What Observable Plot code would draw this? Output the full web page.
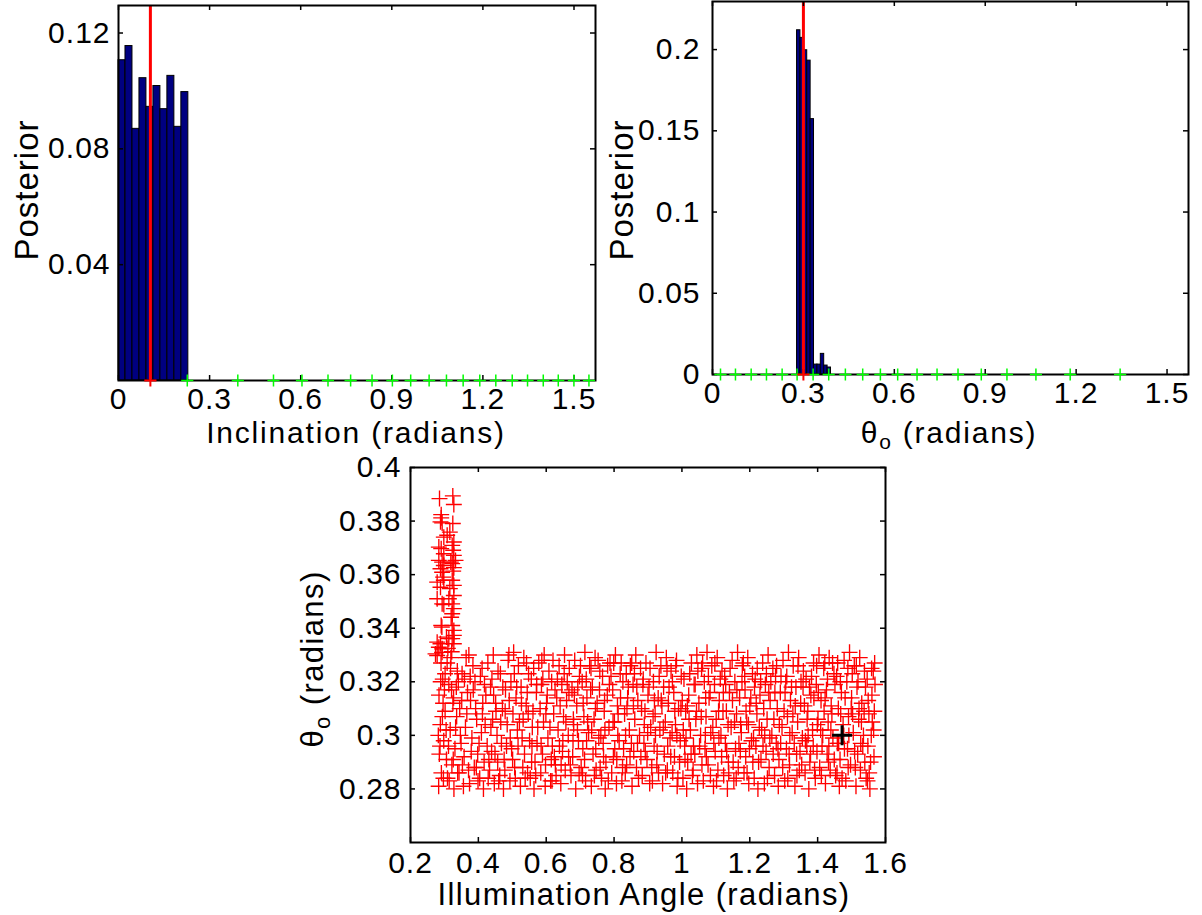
<!DOCTYPE html>
<html><head><meta charset="utf-8">
<script src="https://cdn.jsdelivr.net/npm/d3@7"></script>
<script src="https://cdn.jsdelivr.net/npm/@observablehq/plot@0.6"></script>
<style>
body{margin:0;background:#fff;}
#wrap{position:relative;width:1202px;height:915px;overflow:hidden;background:#fff;}
</style></head><body><div id="wrap"></div>
<script>
// ---------- Panel 1: Inclination posterior ----------
const inclEdges = [0, 0.023, 0.046, 0.069, 0.092, 0.115, 0.138, 0.161, 0.184, 0.207, 0.23];
const inclPosterior = [0.1106, 0.1155, 0.0869, 0.1044, 0.0945, 0.1017, 0.0937, 0.1052, 0.0876, 0.0996];
const inclTrue = 0.105;
const inclGrid = [0.2265, 0.3929, 0.5104, 0.6042, 0.6899, 0.7644, 0.8349, 0.9019, 0.9622, 1.0229, 1.08, 1.135, 1.1897, 1.2425, 1.2966, 1.347, 1.3988, 1.4482, 1.4997, 1.5492];
const inclXTicks = [0, 0.3, 0.6, 0.9, 1.2, 1.5];
const inclYTicks = [0.04, 0.08, 0.12];

// ---------- Panel 2: theta_o posterior ----------
const thetaEdges = [0.279, 0.2902, 0.3014, 0.3126, 0.3238, 0.335, 0.3462, 0.3574, 0.3686, 0.3798, 0.391];
const thetaPosterior = [0.2119, 0.2072, 0.1996, 0.1932, 0.1572, 0.0061, 0.0061, 0.0127, 0.0055, 0.0043];
const thetaTrue = 0.3;
const thetaGrid = [0.0264, 0.0758, 0.1276, 0.1781, 0.2298, 0.2792, 0.332, 0.3835, 0.4385, 0.4957, 0.554, 0.6111, 0.675, 0.741, 0.8102, 0.887, 0.9717, 1.0673, 1.1804, 1.3452];
const thetaXTicks = [0, 0.3, 0.6, 0.9, 1.2, 1.5];
const thetaYTicks = [0, 0.05, 0.1, 0.15, 0.2];

// ---------- Panel 3: samples, illumination angle vs theta_o ----------
const illumXTicks = [0.2, 0.4, 0.6, 0.8, 1, 1.2, 1.4, 1.6];
const scatterYTicks = [0.28, 0.3, 0.32, 0.34, 0.36, 0.38, 0.4];
const truePoint = [1.472, 0.3];
const spikeSamples = [
[0.2855,0.3884],[0.3247,0.3894],[0.3277,0.3862],[0.2905,0.3824],[0.2905,0.3812],[0.2884,0.3797],[0.2933,0.3793],
[0.3247,0.3791],[0.3159,0.3759],[0.3081,0.3747],[0.2982,0.374],[0.3277,0.3722],[0.3229,0.3709],[0.3258,0.3691],
[0.2835,0.3703],[0.2905,0.3697],[0.2982,0.3678],[0.3277,0.3672],[0.3327,0.3653],[0.3188,0.3647],[0.3229,0.3641],
[0.3277,0.3626],[0.3258,0.3613],[0.2835,0.3653],[0.2933,0.3647],[0.2982,0.3634],[0.2884,0.3622],[0.2933,0.3609],
[0.2962,0.3591],[0.2982,0.3579],[0.2884,0.3553],[0.2786,0.3572],[0.3229,0.3579],[0.3277,0.356],[0.3159,0.3548],
[0.2786,0.351],[0.313,0.351],[0.3277,0.3522],[0.3229,0.3491],[0.3277,0.3473],[0.3229,0.3454],[0.3198,0.3441],
[0.2933,0.3491],[0.2982,0.3488],[0.2905,0.341],[0.2925,0.3404],[0.3229,0.341],[0.3277,0.3392],[0.3277,0.3373],
[0.3229,0.3361],[0.3277,0.3342],[0.3061,0.3367],[0.313,0.3361],[0.2786,0.3348],[0.2884,0.3342],[0.2835,0.3329],
[0.2933,0.3323],[0.2737,0.3304],[0.2786,0.3298],[0.3215,0.3312],[0.3101,0.3325]
];
const mainSamples = [
[0.283,0.281],[0.291,0.286],[0.285,0.293],[0.298,0.298],[0.288,0.304],[0.302,0.309],[0.284,0.315],[0.295,0.321],[0.29,0.327],[0.306,0.291],[0.282,0.3],[0.3,0.317],[0.293,0.331],
[0.314,0.283],[0.322,0.289],[0.331,0.295],[0.317,0.302],[0.336,0.307],[0.325,0.312],[0.313,0.319],[0.338,0.324],[0.319,0.329],[0.328,0.28],
[0.343,0.286],[0.356,0.281],[0.349,0.297],[0.362,0.303],[0.345,0.31],[0.368,0.316],[0.352,0.323],[0.364,0.329],[0.358,0.292],
[0.374,0.282],[0.388,0.288],[0.381,0.299],[0.395,0.306],[0.377,0.313],[0.39,0.32],[0.384,0.326],[0.398,0.293],[0.372,0.33],
[0.404,0.284],[0.417,0.29],[0.409,0.301],[0.426,0.296],[0.412,0.308],[0.422,0.315],[0.406,0.322],[0.428,0.327],[0.415,0.28],
[0.433,0.287],[0.447,0.282],[0.439,0.294],[0.455,0.3],[0.442,0.306],[0.451,0.312],[0.436,0.318],[0.458,0.324],[0.444,0.33],
[0.463,0.285],[0.476,0.291],[0.468,0.297],[0.485,0.304],[0.471,0.31],[0.48,0.317],[0.465,0.323],[0.488,0.328],[0.474,0.28],
[0.493,0.283],[0.507,0.288],[0.498,0.295],[0.515,0.302],[0.502,0.308],[0.511,0.314],[0.496,0.32],[0.518,0.326],[0.504,0.331],
[0.524,0.281],[0.536,0.293],[0.529,0.299],[0.545,0.286],[0.532,0.306],[0.541,0.311],[0.526,0.318],[0.548,0.323],[0.534,0.329],
[0.553,0.284],[0.567,0.29],[0.558,0.296],[0.575,0.303],[0.561,0.309],[0.571,0.316],[0.556,0.321],[0.578,0.327],[0.564,0.28],
[0.584,0.286],[0.597,0.281],[0.589,0.293],[0.605,0.299],[0.592,0.305],[0.601,0.312],[0.586,0.319],[0.608,0.324],[0.594,0.33],
[0.613,0.283],[0.627,0.289],[0.618,0.296],[0.635,0.302],[0.622,0.308],[0.631,0.314],[0.616,0.32],[0.638,0.326],[0.624,0.292],
[0.643,0.282],[0.656,0.287],[0.648,0.294],[0.665,0.3],[0.651,0.307],[0.66,0.313],[0.646,0.319],[0.668,0.325],[0.654,0.33],
[0.673,0.285],[0.687,0.28],[0.678,0.292],[0.695,0.298],[0.681,0.304],[0.69,0.311],[0.676,0.317],[0.698,0.322],[0.684,0.328],
[0.703,0.288],[0.716,0.283],[0.708,0.295],[0.725,0.301],[0.711,0.307],[0.72,0.314],[0.706,0.32],[0.728,0.326],[0.714,0.331],
[0.733,0.281],[0.747,0.287],[0.738,0.293],[0.755,0.299],[0.741,0.306],[0.75,0.312],[0.736,0.318],[0.758,0.324],[0.744,0.329],
[0.763,0.284],[0.776,0.29],[0.768,0.297],[0.785,0.303],[0.771,0.309],[0.78,0.315],[0.766,0.322],[0.788,0.327],[0.774,0.28],
[0.793,0.286],[0.807,0.282],[0.798,0.292],[0.815,0.298],[0.801,0.305],[0.81,0.311],[0.796,0.317],[0.818,0.323],[0.804,0.33],
[0.823,0.283],[0.837,0.289],[0.828,0.295],[0.845,0.302],[0.831,0.308],[0.84,0.314],[0.826,0.32],[0.848,0.326],[0.834,0.3],
[0.853,0.281],[0.866,0.288],[0.858,0.294],[0.875,0.3],[0.861,0.306],[0.87,0.313],[0.856,0.319],[0.878,0.325],[0.864,0.33],
[0.883,0.285],[0.897,0.291],[0.888,0.297],[0.905,0.282],[0.891,0.309],[0.9,0.315],[0.886,0.321],[0.908,0.303],[0.894,0.327],
[0.913,0.283],[0.926,0.289],[0.918,0.296],[0.935,0.302],[0.921,0.308],[0.93,0.314],[0.916,0.32],[0.938,0.326],[0.924,0.331],
[0.943,0.282],[0.957,0.287],[0.948,0.293],[0.965,0.299],[0.951,0.305],[0.96,0.312],[0.946,0.318],[0.968,0.324],[0.954,0.329],
[0.973,0.286],[0.986,0.281],[0.978,0.292],[0.995,0.298],[0.981,0.304],[0.99,0.31],[0.976,0.316],[0.998,0.322],[0.984,0.328],
[1.003,0.284],[1.017,0.29],[1.008,0.296],[1.025,0.302],[1.011,0.309],[1.02,0.315],[1.006,0.321],[1.028,0.327],[1.014,0.28],
[1.033,0.287],[1.046,0.282],[1.038,0.293],[1.055,0.3],[1.041,0.306],[1.05,0.312],[1.036,0.319],[1.058,0.325],[1.044,0.33],
[1.063,0.283],[1.077,0.289],[1.068,0.295],[1.085,0.301],[1.071,0.307],[1.08,0.314],[1.066,0.32],[1.088,0.326],[1.074,0.331],
[1.093,0.281],[1.106,0.287],[1.098,0.294],[1.115,0.3],[1.101,0.306],[1.11,0.313],[1.096,0.319],[1.118,0.324],[1.104,0.329],
[1.123,0.285],[1.137,0.29],[1.128,0.297],[1.145,0.303],[1.131,0.309],[1.14,0.316],[1.126,0.322],[1.148,0.328],[1.134,0.28],
[1.153,0.283],[1.166,0.288],[1.158,0.295],[1.175,0.301],[1.161,0.308],[1.17,0.314],[1.156,0.32],[1.178,0.326],[1.164,0.331],
[1.183,0.286],[1.197,0.282],[1.188,0.292],[1.205,0.298],[1.191,0.305],[1.2,0.311],[1.186,0.317],[1.208,0.323],[1.194,0.329],
[1.213,0.284],[1.226,0.29],[1.218,0.296],[1.235,0.302],[1.221,0.308],[1.23,0.315],[1.216,0.321],[1.238,0.327],[1.224,0.28],
[1.243,0.282],[1.257,0.288],[1.248,0.294],[1.265,0.3],[1.251,0.306],[1.26,0.313],[1.246,0.319],[1.268,0.325],[1.254,0.33],
[1.273,0.285],[1.286,0.291],[1.278,0.297],[1.295,0.303],[1.281,0.31],[1.29,0.316],[1.276,0.322],[1.298,0.328],[1.284,0.281],
[1.303,0.283],[1.317,0.289],[1.308,0.295],[1.325,0.301],[1.311,0.307],[1.32,0.313],[1.306,0.32],[1.328,0.326],[1.314,0.331],
[1.333,0.281],[1.346,0.287],[1.338,0.293],[1.355,0.299],[1.341,0.305],[1.35,0.312],[1.336,0.318],[1.358,0.324],[1.344,0.329],
[1.363,0.286],[1.377,0.29],[1.368,0.296],[1.385,0.302],[1.371,0.309],[1.38,0.315],[1.366,0.321],[1.388,0.327],[1.374,0.28],
[1.393,0.284],[1.406,0.288],[1.398,0.294],[1.415,0.3],[1.401,0.306],[1.41,0.313],[1.396,0.319],[1.418,0.325],[1.404,0.33],
[1.423,0.282],[1.437,0.287],[1.428,0.293],[1.445,0.299],[1.431,0.305],[1.44,0.311],[1.426,0.317],[1.448,0.323],[1.434,0.329],
[1.453,0.285],[1.466,0.291],[1.458,0.297],[1.475,0.304],[1.461,0.31],[1.47,0.316],[1.456,0.322],[1.478,0.328],[1.464,0.281],
[1.483,0.283],[1.497,0.289],[1.488,0.295],[1.505,0.301],[1.491,0.307],[1.5,0.314],[1.486,0.32],[1.508,0.326],[1.494,0.331],
[1.513,0.281],[1.526,0.287],[1.518,0.293],[1.535,0.3],[1.521,0.306],[1.53,0.312],[1.516,0.318],[1.538,0.324],[1.524,0.329],
[1.543,0.284],[1.556,0.29],[1.548,0.296],[1.565,0.302],[1.551,0.308],[1.56,0.315],[1.546,0.321],[1.568,0.327],[1.554,0.28],
[0.287,0.296],[0.309,0.284],[0.296,0.312],[0.318,0.325],[0.333,0.303],[0.341,0.32],[0.353,0.289],[0.366,0.308],[0.379,0.294],[0.385,0.317],
[0.399,0.283],[0.411,0.325],[0.42,0.304],[0.431,0.291],[0.44,0.321],[0.452,0.309],[0.46,0.283],[0.472,0.318],[0.483,0.296],[0.49,0.33],
[0.501,0.291],[0.513,0.318],[0.521,0.305],[0.538,0.284],[0.544,0.316],[0.551,0.298],[0.563,0.325],[0.569,0.285],[0.582,0.31],[0.59,0.321],
[0.598,0.289],[0.611,0.303],[0.62,0.328],[0.629,0.285],[0.641,0.311],[0.649,0.298],[0.662,0.32],[0.671,0.289],[0.683,0.315],[0.692,0.302],
[0.701,0.326],[0.713,0.291],[0.722,0.305],[0.731,0.317],[0.742,0.285],[0.753,0.328],[0.761,0.3],[0.772,0.313],[0.783,0.283],[0.791,0.322],
[0.802,0.295],[0.812,0.308],[0.821,0.327],[0.833,0.286],[0.842,0.318],[0.851,0.297],[0.86,0.323],[0.872,0.284],[0.881,0.31],[0.892,0.294],
[0.903,0.318],[0.911,0.288],[0.922,0.3],[0.933,0.322],[0.941,0.311],[0.952,0.286],[0.962,0.318],[0.971,0.301],[0.982,0.326],[0.993,0.29],
[1.001,0.313],[1.012,0.299],[1.023,0.323],[1.031,0.285],[1.043,0.309],[1.052,0.296],[1.061,0.327],[1.072,0.292],[1.083,0.316],[1.091,0.303],
[1.102,0.283],[1.113,0.321],[1.121,0.309],[1.132,0.294],[1.142,0.325],[1.151,0.29],[1.162,0.317],[1.173,0.304],[1.181,0.327],[1.192,0.286],
[1.203,0.314],[1.211,0.299],[1.222,0.325],[1.233,0.291],[1.241,0.31],[1.252,0.284],[1.262,0.32],[1.271,0.306],[1.283,0.295],[1.292,0.322],
[1.301,0.309],[1.312,0.284],[1.323,0.318],[1.331,0.297],[1.342,0.326],[1.353,0.289],[1.361,0.311],[1.372,0.3],[1.382,0.322],[1.391,0.287],
[1.402,0.316],[1.413,0.296],[1.421,0.327],[1.432,0.29],[1.442,0.308],[1.451,0.319],[1.462,0.297],[1.472,0.284],[1.481,0.314],[1.492,0.3],
[1.502,0.323],[1.511,0.288],[1.522,0.31],[1.533,0.296],[1.541,0.318],[1.552,0.286],[1.561,0.305],[1.569,0.319],[1.566,0.292],
[0.294,0.307],[0.312,0.296],[0.327,0.314],[0.302,0.323],[0.347,0.3],[0.359,0.321],[0.371,0.287],[0.392,0.31],[0.402,0.297],[0.418,0.319],
[0.437,0.303],[0.449,0.293],[0.466,0.305],[0.478,0.287],[0.491,0.313],[0.506,0.323],[0.517,0.296],[0.531,0.288],[0.547,0.308],[0.559,0.303],
[0.573,0.297],[0.587,0.328],[0.603,0.315],[0.615,0.291],[0.633,0.321],[0.644,0.289],[0.658,0.305],[0.667,0.316],[0.679,0.298],[0.697,0.286],
[0.709,0.312],[0.718,0.321],[0.734,0.302],[0.746,0.295],[0.757,0.317],[0.769,0.292],[0.781,0.326],[0.797,0.305],[0.808,0.291],[0.819,0.314],
[0.836,0.323],[0.847,0.292],[0.857,0.311],[0.869,0.297],[0.885,0.319],[0.899,0.301],[0.915,0.307],[0.927,0.294],[0.939,0.313],[0.956,0.325],
[0.967,0.292],[0.979,0.309],[0.988,0.284],[1.004,0.302],[1.016,0.311],[1.027,0.293],[1.039,0.319],[1.057,0.307],[1.069,0.3],[1.078,0.322],
[1.094,0.297],[1.108,0.309],[1.117,0.292],[1.129,0.319],[1.138,0.286],[1.155,0.305],[1.168,0.297],[1.177,0.32],[1.189,0.309],[1.199,0.295],
[1.214,0.318],[1.228,0.303],[1.239,0.296],[1.249,0.323],[1.259,0.299],[1.274,0.316],[1.287,0.304],[1.297,0.288],[1.309,0.322],[1.318,0.3],
[1.334,0.311],[1.348,0.294],[1.357,0.318],[1.369,0.306],[1.379,0.293],[1.389,0.314],[1.399,0.304],[1.411,0.285],[1.419,0.309],[1.429,0.321],
[1.439,0.302],[1.449,0.291],[1.459,0.327],[1.468,0.308],[1.479,0.295],[1.489,0.325],[1.499,0.31],[1.509,0.294],[1.519,0.32],[1.529,0.305],
[1.539,0.29],[1.549,0.313],[1.559,0.325],[1.567,0.309],
[0.305,0.302],[0.321,0.317],[0.339,0.286],[0.351,0.313],[0.376,0.322],[0.394,0.288],[0.413,0.312],[0.429,0.284],[0.445,0.315],[0.457,0.29],
[0.479,0.309],[0.494,0.299],[0.509,0.284],[0.527,0.312],[0.542,0.327],[0.557,0.29],[0.572,0.319],[0.585,0.296],[0.599,0.308],[0.617,0.283],
[0.626,0.317],[0.639,0.296],[0.653,0.323],[0.666,0.292],[0.68,0.306],[0.693,0.318],[0.707,0.285],[0.719,0.298],[0.732,0.325],[0.745,0.31],
[0.759,0.288],[0.773,0.302],[0.786,0.319],[0.799,0.327],[0.811,0.3],[0.825,0.288],[0.838,0.31],[0.852,0.327],[0.867,0.318],[0.879,0.292],
[0.889,0.304],[0.906,0.325],[0.919,0.313],[0.931,0.286],[0.945,0.303],[0.958,0.296],[0.972,0.32],[0.985,0.3],[0.997,0.31],[1.009,0.291],
[1.021,0.306],[1.034,0.296],[1.047,0.324],[1.059,0.289],[1.07,0.314],[1.084,0.285],[1.097,0.327],[1.109,0.299],[1.122,0.316],[1.136,0.304],
[1.149,0.313],[1.16,0.284],[1.172,0.294],[1.185,0.322],[1.196,0.304],[1.209,0.29],[1.219,0.312],[1.232,0.32],[1.244,0.3],[1.256,0.316],
[1.269,0.293],[1.279,0.326],[1.291,0.297],[1.304,0.316],[1.316,0.293],[1.327,0.308],[1.339,0.285],[1.351,0.32],[1.364,0.298],[1.376,0.318],
[1.387,0.296],[1.397,0.326],[1.409,0.302],[1.422,0.314],[1.433,0.296],[1.444,0.327],[1.457,0.286],[1.467,0.32],[1.477,0.3],[1.49,0.288],
[1.503,0.308],[1.514,0.326],[1.527,0.297],[1.537,0.309],[1.547,0.283],[1.558,0.3],[1.564,0.324],[0.289,0.32],[0.297,0.284],[0.308,0.327],
[0.326,0.291],[0.335,0.318]
];

// ---------- helpers ----------
const FONT = '"Liberation Sans", Arial, Helvetica, sans-serif';
const wrap = document.getElementById("wrap");
const fmt = d => String(d);

function panel(o) {
  const pw = o.width - o.ml - o.mr, ph = o.height - o.mt - o.mb;
  const tk = 5;
  const svg = Plot.plot({
    width: o.width, height: o.height,
    marginLeft: o.ml, marginRight: o.mr, marginTop: o.mt, marginBottom: o.mb,
    x: {domain: o.xDomain},
    y: {domain: o.yDomain},
    style: {fontFamily: FONT, fontSize: "30px", letterSpacing: "1px", color: "black", background: "transparent", overflow: "visible"},
    marks: [
      ...o.marks,
      Plot.frame({stroke: "black", strokeWidth: 2}),
      Plot.tickX(o.xTicks, {x: d => d, insetTop: ph - tk, stroke: "black", strokeWidth: 1.5}),
      Plot.tickX(o.xTicks, {x: d => d, insetBottom: ph - tk, stroke: "black", strokeWidth: 1.5}),
      Plot.tickY(o.yTicks, {y: d => d, insetRight: pw - tk, stroke: "black", strokeWidth: 1.5}),
      Plot.tickY(o.yTicks, {y: d => d, insetLeft: pw - tk, stroke: "black", strokeWidth: 1.5}),
      ...(o.overlay || []),
      Plot.axisX(o.xTicks, {tickSize: 0, tickPadding: o.xPad, tickFormat: fmt, label: null, fill: "black"}),
      Plot.axisY(o.yTicks, {tickSize: 0, tickPadding: o.yPad, tickFormat: fmt, label: null, fill: "black"})
    ]
  });
  svg.style.position = "absolute";
  svg.style.left = o.left + "px";
  svg.style.top = o.top + "px";
  wrap.appendChild(svg);
  return d3.select(svg);
}

function label(sel, {x, y, rotate = 0, size = 30, spacing = 1.8, parts}) {
  const t = sel.append("text")
    .attr("transform", `translate(${x},${y}) rotate(${rotate})`)
    .attr("text-anchor", "middle")
    .style("font-family", FONT)
    .style("font-size", size + "px")
    .style("letter-spacing", spacing + "px")
    .attr("fill", "black");
  parts.forEach(([txt, sub]) => {
    if (sub) {
      t.append("tspan").text(txt).style("font-size", Math.round(size * 0.7) + "px").attr("dy", "0.3em");
    } else {
      const s = t.append("tspan").text(txt);
      if (t.selectAll("tspan").size() > 1) s.attr("dy", "-0.21em");
    }
  });
  return t;
}

// ---------- Panel 1 ----------
const inclBars = inclPosterior.map((p, i) => ({x1: inclEdges[i], x2: inclEdges[i + 1], p}));
const s1 = panel({
  left: 0, top: 0, width: 600, height: 450, ml: 118, mr: 5, mt: 5, mb: 70,
  xDomain: [0, Math.PI / 2], yDomain: [0, 0.1295],
  xTicks: inclXTicks, yTicks: inclYTicks, xPad: 7, yPad: 8,
  marks: [
    Plot.rectY(inclBars, {x1: "x1", x2: "x2", y: "p", fill: "#000080", stroke: "black", strokeWidth: 1}),
    Plot.ruleX([inclTrue], {x: d => d, stroke: "#ff0000", strokeWidth: 3})
  ],
  overlay: [
    Plot.dot(inclGrid, {x: d => d, y: () => 0, symbol: "plus", r: 4, stroke: "#00ff00", strokeWidth: 1.5}),
    Plot.dot([inclTrue], {x: d => d, y: () => 0, symbol: "plus", r: 4, stroke: "#ff0000", strokeWidth: 2})
  ]
});
label(s1, {x: 38, y: 190, rotate: -90, size: 33, spacing: 1, parts: [["Posterior"]]});
label(s1, {x: 356, y: 443, size: 30, spacing: 1.8, parts: [["Inclination (radians)"]]});

// ---------- Panel 2 ----------
const thetaBars = thetaPosterior.map((p, i) => ({x1: thetaEdges[i], x2: thetaEdges[i + 1], p}));
const s2 = panel({
  left: 600, top: 0, width: 602, height: 450, ml: 112, mr: 14, mt: 1, mb: 76,
  xDomain: [0, Math.PI / 2], yDomain: [0, 0.2296],
  xTicks: thetaXTicks, yTicks: thetaYTicks, xPad: 7, yPad: 12,
  marks: [
    Plot.rectY(thetaBars, {x1: "x1", x2: "x2", y: "p", fill: "#000080", stroke: "black", strokeWidth: 1}),
    Plot.ruleX([thetaTrue], {x: d => d, stroke: "#ff0000", strokeWidth: 3})
  ],
  overlay: [
    Plot.dot(thetaGrid, {x: d => d, y: () => 0, symbol: "plus", r: 4, stroke: "#00ff00", strokeWidth: 1.5}),
    Plot.dot([thetaTrue], {x: d => d, y: () => 0, symbol: "plus", r: 4, stroke: "#ff0000", strokeWidth: 2})
  ]
});
label(s2, {x: 33, y: 190, rotate: -90, size: 33, spacing: 1, parts: [["Posterior"]]});
label(s2, {x: 349, y: 443, size: 30, spacing: 1.8, parts: [["θ"], ["o", true], [" (radians)"]]});

// ---------- Panel 3 ----------
const s3 = panel({
  left: 280, top: 440, width: 640, height: 475, ml: 130, mr: 35, mt: 27, mb: 73,
  xDomain: [0.2, 1.6], yDomain: [0.26, 0.4],
  xTicks: illumXTicks, yTicks: scatterYTicks, xPad: 9, yPad: 9,
  marks: [
    Plot.dot(mainSamples, {x: d => d[0], y: d => d[1], symbol: "plus", r: 5.2, stroke: "#ff0000", strokeWidth: 1.35}),
    Plot.dot(spikeSamples, {x: d => d[0], y: d => d[1], symbol: "plus", r: 5.2, stroke: "#ff0000", strokeWidth: 1.35}),
    Plot.dot([truePoint], {x: d => d[0], y: d => d[1], symbol: "plus", r: 6.5, stroke: "black", strokeWidth: 3})
  ]
});
label(s3, {x: 43, y: 219, rotate: -90, size: 31, spacing: 1.4, parts: [["θ"], ["o", true], [" (radians)"]]});
label(s3, {x: 364, y: 465, size: 31, spacing: 1.4, parts: [["Illumination Angle (radians)"]]});
</script></body></html>
